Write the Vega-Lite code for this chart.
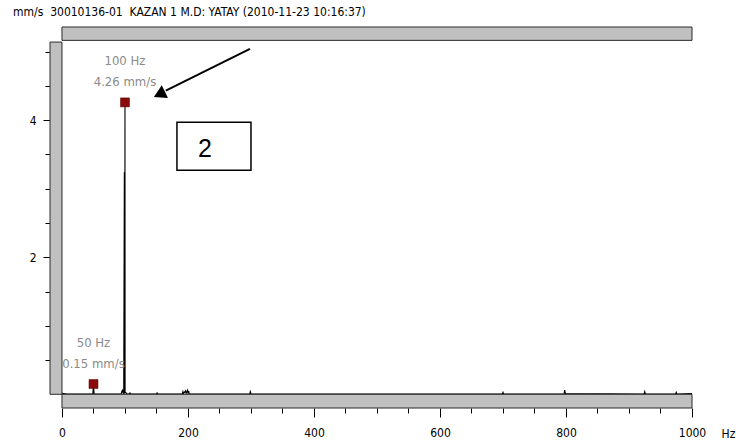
{
  "$schema": "https://vega.github.io/schema/vega-lite/v6.json",
  "width": 642,
  "height": 381,
  "autosize": {"type": "none"},
  "padding": {"left": 50, "top": 27, "right": 44, "bottom": 40},
  "background": "white",
  "config": {"view": {"stroke": null}, "font": "DejaVu Sans Condensed"},
  "title": {
    "text": "mm/s\u00a0\u00a030010136-01\u00a0\u00a0KAZAN 1 M.D: YATAY (2010-11-23 10:16:37)",
    "anchor": "start",
    "frame": "group",
    "dx": -37,
    "offset": 8,
    "fontSize": 12,
    "fontWeight": "normal",
    "color": "#000000",
    "font": "DejaVu Sans Condensed"
  },
  "datasets": {
    "spectrum": [
      {"f": 0, "a": 0.02}, {"f": 2, "a": 0.01}, {"f": 8, "a": 0.005},
      {"f": 49, "a": 0.005}, {"f": 50, "a": 0.15}, {"f": 51, "a": 0.005},
      {"f": 94, "a": 0.005}, {"f": 95, "a": 0.04}, {"f": 96, "a": 0.06}, {"f": 97, "a": 0.02},
      {"f": 98, "a": 0.01}, {"f": 99, "a": 3.24}, {"f": 99.7, "a": 0.01}, {"f": 100, "a": 4.26},
      {"f": 100.2, "a": 0.03}, {"f": 102, "a": 0.02}, {"f": 103, "a": 0.005},
      {"f": 107, "a": 0.005}, {"f": 108, "a": 0.02}, {"f": 109, "a": 0.005},
      {"f": 150, "a": 0.005}, {"f": 151, "a": 0.02}, {"f": 152, "a": 0.005},
      {"f": 191, "a": 0.005}, {"f": 192, "a": 0.04}, {"f": 193, "a": 0.01},
      {"f": 196, "a": 0.05}, {"f": 197, "a": 0.01}, {"f": 199, "a": 0.06},
      {"f": 200, "a": 0.02}, {"f": 201, "a": 0.05}, {"f": 202, "a": 0.005},
      {"f": 298, "a": 0.005}, {"f": 299, "a": 0.04}, {"f": 300, "a": 0.01}, {"f": 301, "a": 0.005},
      {"f": 699, "a": 0.005}, {"f": 700, "a": 0.03}, {"f": 701, "a": 0.005},
      {"f": 797, "a": 0.005}, {"f": 798, "a": 0.06}, {"f": 799, "a": 0.01},
      {"f": 924, "a": 0.005}, {"f": 925, "a": 0.04}, {"f": 926, "a": 0.005},
      {"f": 974, "a": 0.005}, {"f": 975, "a": 0.03}, {"f": 976, "a": 0.005},
      {"f": 1000, "a": 0.01}
    ],
    "peaks": [
      {"f": 50, "a": 0.15, "label": "50 Hz\n0.15 mm/s"},
      {"f": 100, "a": 4.26, "label": "100 Hz\n4.26 mm/s"}
    ],
    "bars": [
      {"f": 0, "f2": 1000, "a": 5.165, "a2": 5.36},
      {"f": -19, "f2": 0, "a": 0, "a2": 5.14},
      {"f": 0, "f2": 1000, "a": -0.2, "a2": 0}
    ],
    "arrow": [
      {"f": 298.4, "a": 5.04, "f2": 164.8, "a2": 4.43}
    ],
    "arrowhead": [
      {"f": 157.5, "a": 4.39}
    ],
    "box": [
      {"f": 182.5, "f2": 300, "a": 3.27, "a2": 3.97, "label": "2", "fc": 227, "ac": 3.58}
    ]
  },
  "encoding": {
    "x": {
      "field": "f",
      "type": "quantitative",
      "scale": {"domain": [-19, 1000], "nice": false, "zero": false},
      "axis": {
        "values": [0, 50, 100, 150, 200, 250, 300, 350, 400, 450, 500, 550, 600, 650, 700, 750, 800, 850, 900, 950, 1000],
        "labelExpr": "datum.value % 200 === 0 ? '' + datum.value : ''",
        "grid": false,
        "domain": false,
        "ticks": true,
        "tickColor": "#000000",
        "tickSize": {"condition": {"test": "datum.value % 200 === 0", "value": 9}, "value": 5},
        "labelFontSize": 12,
        "labelColor": "#000000",
        "labelPadding": 10,
        "labelFlush": false,
        "labelOverlap": false,
        "title": "Hz",
        "titleX": 678,
        "titleY": 25,
        "titleAngle": 0,
        "titleAlign": "center",
        "titleBaseline": "middle",
        "titleFontWeight": "normal",
        "titleFontSize": 12,
        "titleColor": "#000000"
      }
    },
    "y": {
      "field": "a",
      "type": "quantitative",
      "scale": {"domain": [-0.2, 5.36], "nice": false, "zero": false},
      "axis": {
        "values": [0.5, 1, 1.5, 2, 2.5, 3, 3.5, 4, 4.5, 5],
        "labelExpr": "datum.value === 2 ? '2' : datum.value === 4 ? '4' : ''",
        "grid": false,
        "domain": false,
        "tickColor": "#000000",
        "tickSize": {"condition": {"test": "datum.value === 2 || datum.value === 4", "value": 7}, "value": 5},
        "labelFontSize": 12,
        "labelColor": "#000000",
        "labelPadding": 7,
        "labelFlush": false,
        "labelOverlap": false,
        "title": null
      }
    }
  },
  "layer": [
    {
      "data": {"name": "spectrum"},
      "mark": {"type": "line", "color": "#000000", "strokeWidth": 1.1, "clip": false}
    },
    {
      "data": {"name": "peaks"},
      "mark": {"type": "point", "shape": "square", "size": 81, "filled": true, "fill": "#8b0a0a", "stroke": "#5a0000", "strokeWidth": 0.5, "opacity": 1}
    },
    {
      "data": {"name": "peaks"},
      "mark": {"type": "text", "lineBreak": "\n", "lineHeight": 21, "fontSize": 13, "color": "#8a8a8a", "align": "center", "baseline": "middle", "dy": -41, "font": "DejaVu Sans Condensed"},
      "encoding": {"text": {"field": "label", "type": "nominal"}}
    },
    {
      "data": {"name": "bars"},
      "mark": {"type": "rect", "fill": "#c0c0c0", "stroke": "#2a2a2a", "strokeWidth": 1, "clip": false},
      "encoding": {
        "x2": {"field": "f2"},
        "y2": {"field": "a2"}
      }
    },
    {
      "data": {"name": "arrow"},
      "mark": {"type": "rule", "color": "#000000", "strokeWidth": 2},
      "encoding": {
        "x2": {"field": "f2"},
        "y2": {"field": "a2"}
      }
    },
    {
      "data": {"name": "arrowhead"},
      "mark": {"type": "point", "shape": "triangle", "size": 200, "angle": 244, "filled": true, "fill": "#000000", "opacity": 1}
    },
    {
      "data": {"name": "box"},
      "mark": {"type": "rect", "fill": "#ffffff", "stroke": "#000000", "strokeWidth": 1.5},
      "encoding": {
        "x2": {"field": "f2"},
        "y2": {"field": "a2"}
      }
    },
    {
      "data": {"name": "box"},
      "mark": {"type": "text", "fontSize": 25, "font": "Liberation Sans", "color": "#000000", "align": "center", "baseline": "middle"},
      "encoding": {
        "x": {"field": "fc", "type": "quantitative"},
        "y": {"field": "ac", "type": "quantitative"},
        "text": {"field": "label", "type": "nominal"}
      }
    }
  ]
}
